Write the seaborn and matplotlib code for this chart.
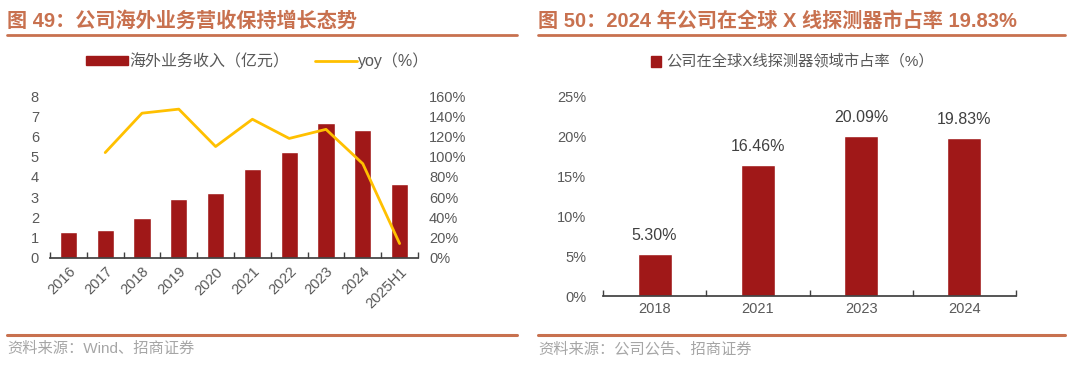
import numpy as np
import pandas as pd
import seaborn as sns
import matplotlib.pyplot as plt
from matplotlib.lines import Line2D
from matplotlib.patches import Patch

# ---- data ----
years = ['2016', '2017', '2018', '2019', '2020', '2021', '2022', '2023', '2024', '2025H1']
overseas_rev = [1.29, 1.39, 1.98, 2.89, 3.18, 4.39, 5.25, 6.68, 6.30, 3.66]   # 亿元
yoy_years = ['2017', '2018', '2019', '2020', '2021', '2022', '2023', '2024', '2025H1']
yoy_pct = [104, 143, 147, 110, 137, 118, 127, 93, 14]                            # %

share_years = ['2018', '2021', '2023', '2024']
share_pct = [5.30, 16.46, 20.09, 19.83]

title_left = '图 49：公司海外业务营收保持增长态势'
title_right = '图 50：2024 年公司在全球 X 线探测器市占率 19.83%'
src_left = '资料来源：Wind、招商证券'
src_right = '资料来源：公司公告、招商证券'

RED = '#A01818'
YELLOW = '#FFC000'
BROWN = '#C8714F'
GRAY = '#595959'

sns.set_theme(style='white')
plt.rcParams['font.family'] = ['Liberation Sans', 'Noto Sans CJK SC', 'DejaVu Sans']

W, H = 1080, 366
fig = plt.figure(figsize=(W / 100, H / 100), dpi=100)


def box(x0, y0, x1, y1):
    # pixel box (top-left origin) -> figure fraction
    return [x0 / W, 1 - y1 / H, (x1 - x0) / W, (y1 - y0) / H]


# ---- headers / footers ----
for x0, x1, t in [(7, 517, title_left), (538, 1065, title_right)]:
    fig.text(x0 / W, 1 - 21 / H, t, fontsize=14.5, fontweight='bold', color=BROWN,
             va='center', ha='left')
    fig.add_artist(Line2D([x0 / W, x1 / W], [1 - 35 / H] * 2, color=BROWN, lw=2))
    fig.add_artist(Line2D([x0 / W, x1 / W], [1 - 335 / H] * 2, color=BROWN, lw=2.2))
fig.text(7 / W, 1 - 349 / H, src_left, fontsize=11, color='#A6A6A6', va='center')
fig.text(538 / W, 1 - 349 / H, src_right, fontsize=11, color='#A6A6A6', va='center')

# ---- left chart ----
df_rev = pd.DataFrame({'year': years, 'rev': overseas_rev})
ax = fig.add_axes(box(50, 96, 418, 257.7))
sns.barplot(data=df_rev, x='year', y='rev', color=RED, saturation=1, width=0.47, ax=ax)
ax.set_ylim(0, 8)
ax.set_xlim(-0.5, len(years) - 0.5)
ax.set_yticks(range(0, 9))
ax.set_xlabel('')
ax.set_ylabel('')
for s in ['top', 'right', 'left']:
    ax.spines[s].set_visible(False)
ax.spines['bottom'].set_color('#404040')
ax.tick_params(axis='y', length=0, labelsize=10.5, labelcolor=GRAY, pad=8)
ax.set_xticks(np.arange(len(years)))
ax.set_xticklabels(years, rotation=45, ha='right', rotation_mode='anchor',
                   fontsize=10.5, color=GRAY)
ax.tick_params(axis='x', length=0, pad=5)
ax.set_xticks(np.arange(len(years) + 1) - 0.5, minor=True)
ax.tick_params(axis='x', which='minor', direction='in', length=4, color='#404040', bottom=True)

ax2 = ax.twinx()
df_yoy = pd.DataFrame({'pos': [years.index(y) for y in yoy_years], 'yoy': yoy_pct})
sns.lineplot(data=df_yoy, x='pos', y='yoy', color=YELLOW, lw=2, ax=ax2)
ax2.set_ylim(0, 160)
ax2.set_yticks(range(0, 161, 20))
ax2.set_yticklabels([f'{v}%' for v in range(0, 161, 20)])
ax2.set_ylabel('')
ax2.tick_params(axis='y', length=0, labelsize=10.5, labelcolor=GRAY, pad=8)
for s in ax2.spines.values():
    s.set_visible(False)
ax.set_xlim(-0.5, len(years) - 0.5)

handles = [Patch(color=RED), Line2D([], [], color=YELLOW, lw=2)]
fig.legend(handles, ['海外业务收入（亿元）', 'yoy（%）'], loc='center',
           bbox_to_anchor=(258 / W, 1 - 61 / H), ncol=2, frameon=False,
           fontsize=11.5, labelcolor=GRAY, handlelength=2.6, handleheight=0.5,
           columnspacing=1.6, handletextpad=0.1)

# ---- right chart ----
df_share = pd.DataFrame({'year': share_years, 'share': share_pct})
bx = fig.add_axes(box(603, 96.7, 1016, 296))
sns.barplot(data=df_share, x='year', y='share', color=RED, saturation=1, width=0.33, ax=bx)
bx.set_ylim(0, 25)
bx.set_xlim(-0.5, len(share_years) - 0.5)
bx.set_yticks(range(0, 26, 5))
bx.set_yticklabels([f'{v}%' for v in range(0, 26, 5)])
bx.set_xlabel('')
bx.set_ylabel('')
for s in ['top', 'right', 'left']:
    bx.spines[s].set_visible(False)
bx.spines['bottom'].set_color('#404040')
bx.tick_params(axis='y', length=0, labelsize=10.5, labelcolor=GRAY, pad=12)
bx.tick_params(axis='x', length=0, labelsize=10.5, labelcolor=GRAY, pad=4)
bx.set_xticks(np.arange(len(share_years) + 1) - 0.5, minor=True)
bx.tick_params(axis='x', which='minor', direction='in', length=4, color='#404040', bottom=True)
for c in bx.containers:
    bx.bar_label(c, labels=[f'{v:.2f}%' for v in share_pct], padding=8,
                 fontsize=11.5, color='#404040')

fig.legend([Patch(color=RED)], ['公司在全球X线探测器领域市占率（%）'], loc='center',
           bbox_to_anchor=(792 / W, 1 - 62 / H), frameon=False, fontsize=11,
           labelcolor=GRAY, handlelength=0.7, handleheight=0.7, handletextpad=0.3)

fig.savefig('out.png', dpi=100)
